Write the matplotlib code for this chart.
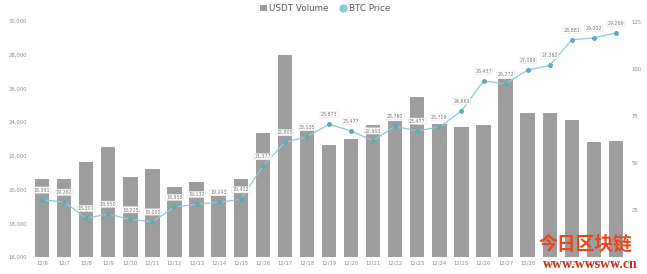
import matplotlib
matplotlib.use("Agg")
import matplotlib.pyplot as plt
from matplotlib.lines import Line2D
from matplotlib.patches import Patch

dates = ["12/6", "12/7", "12/8", "12/9", "12/10", "12/11", "12/12", "12/13", "12/14",
         "12/15", "12/16", "12/17", "12/18", "12/19", "12/20", "12/21", "12/22", "12/23",
         "12/24", "12/25", "12/26", "12/27", "12/28", "12/29", "12/30", "12/31", "1/1"]
usdt_volume = [41.5, 41.3, 50.7, 58.7, 42.7, 46.8, 37.1, 39.7, 32.7, 41.3, 65.8, 107.3,
               66.9, 59.7, 62.6, 70.1, 72.3, 85.1, 70.7, 69.3, 70.2, 94.7, 76.8, 76.8,
               72.7, 61.3, 61.5]
btc_price = [19391, 19262, 18301, 18550, 18225, 18095, 18958, 19132, 19243, 19412,
             21377, 22805, 23135, 23873, 23477, 22903, 23760, 23477, 23719, 24663,
             26437, 26272, 27089, 27362, 28881, 29002, 29289]
left_ticks = [16000, 18000, 20000, 22000, 24000, 26000, 28000, 30000]
right_ticks = [25, 50, 75, 100, 125]

plt.rcParams['font.family'] = ['DejaVu Sans']
W, H = 647, 274
fig = plt.figure(figsize=(W / 100, H / 100), dpi=100)
ax = fig.add_axes([31 / W, 1 - 257 / H, (627 - 31) / W, (257 - 21) / H])
ax2 = ax.twinx()

x = list(range(len(dates)))
bar_color = "#9d9d9d"
line_color = "#8acbd3"
marker_color = "#63aab5"
text_gray = "#8a8a8a"

ax2.bar(x, usdt_volume, width=0.65, color=bar_color, zorder=1)
ax2.set_ylim(0, 125.5)
ax2.set_yticks(right_ticks)
ax2.set_yticklabels([str(t) for t in right_ticks])

ax.set_zorder(ax2.get_zorder() + 1)
ax.patch.set_visible(False)
ax.plot(x, btc_price, color=line_color, lw=0.9, marker="o", ms=2.6,
        markerfacecolor=marker_color, markeredgecolor=marker_color, zorder=3)
ax.set_ylim(16000, 30000)
ax.set_yticks(left_ticks)
ax.set_yticklabels([f"{t:,}" for t in left_ticks])
ax.set_xlim(-0.5, len(dates) - 0.5)
ax.set_xticks(x)
ax.set_xticklabels(dates)

for i, p in enumerate(btc_price):
    ax.annotate(f"{p:,}", (i, p), xytext=(0, 7), textcoords="offset points",
                ha="center", va="center", fontsize=3.4, color="#777777", zorder=4,
                bbox=dict(boxstyle="round,pad=0.15", fc="white", ec="#dddddd", lw=0.3))

for a in (ax, ax2):
    for s in a.spines.values():
        s.set_visible(False)
    a.tick_params(length=0, labelsize=3.8, labelcolor=text_gray, pad=3)
ax.tick_params(axis="x", pad=2.5)

handles = [Patch(facecolor=bar_color, edgecolor="none"),
           Line2D([], [], marker="o", color="none", markerfacecolor=line_color,
                  markeredgecolor=line_color, ms=5)]
fig.legend(handles, ["USDT Volume", "BTC Price"], loc="upper center",
           bbox_to_anchor=(325 / W, 1.0), ncol=2, frameon=False, fontsize=6.3,
           labelcolor="#555555", handlelength=0.8, handleheight=0.8,
           handletextpad=0.3, columnspacing=1.2, borderaxespad=0.05)

fig.text(585 / W, 1 - 244 / H, "今日区块链", fontsize=13.5, color="#e8461c",
         family=["Noto Sans CJK SC", "DejaVu Sans"], weight="bold",
         ha="center", va="center")
fig.text(590 / W, 1 - 265 / H, "www.wwsww.cn", fontsize=10, color="#c8321a",
         family=["Liberation Serif", "DejaVu Serif"], weight="bold",
         ha="center", va="center")

fig.savefig("out.png", dpi=100)
